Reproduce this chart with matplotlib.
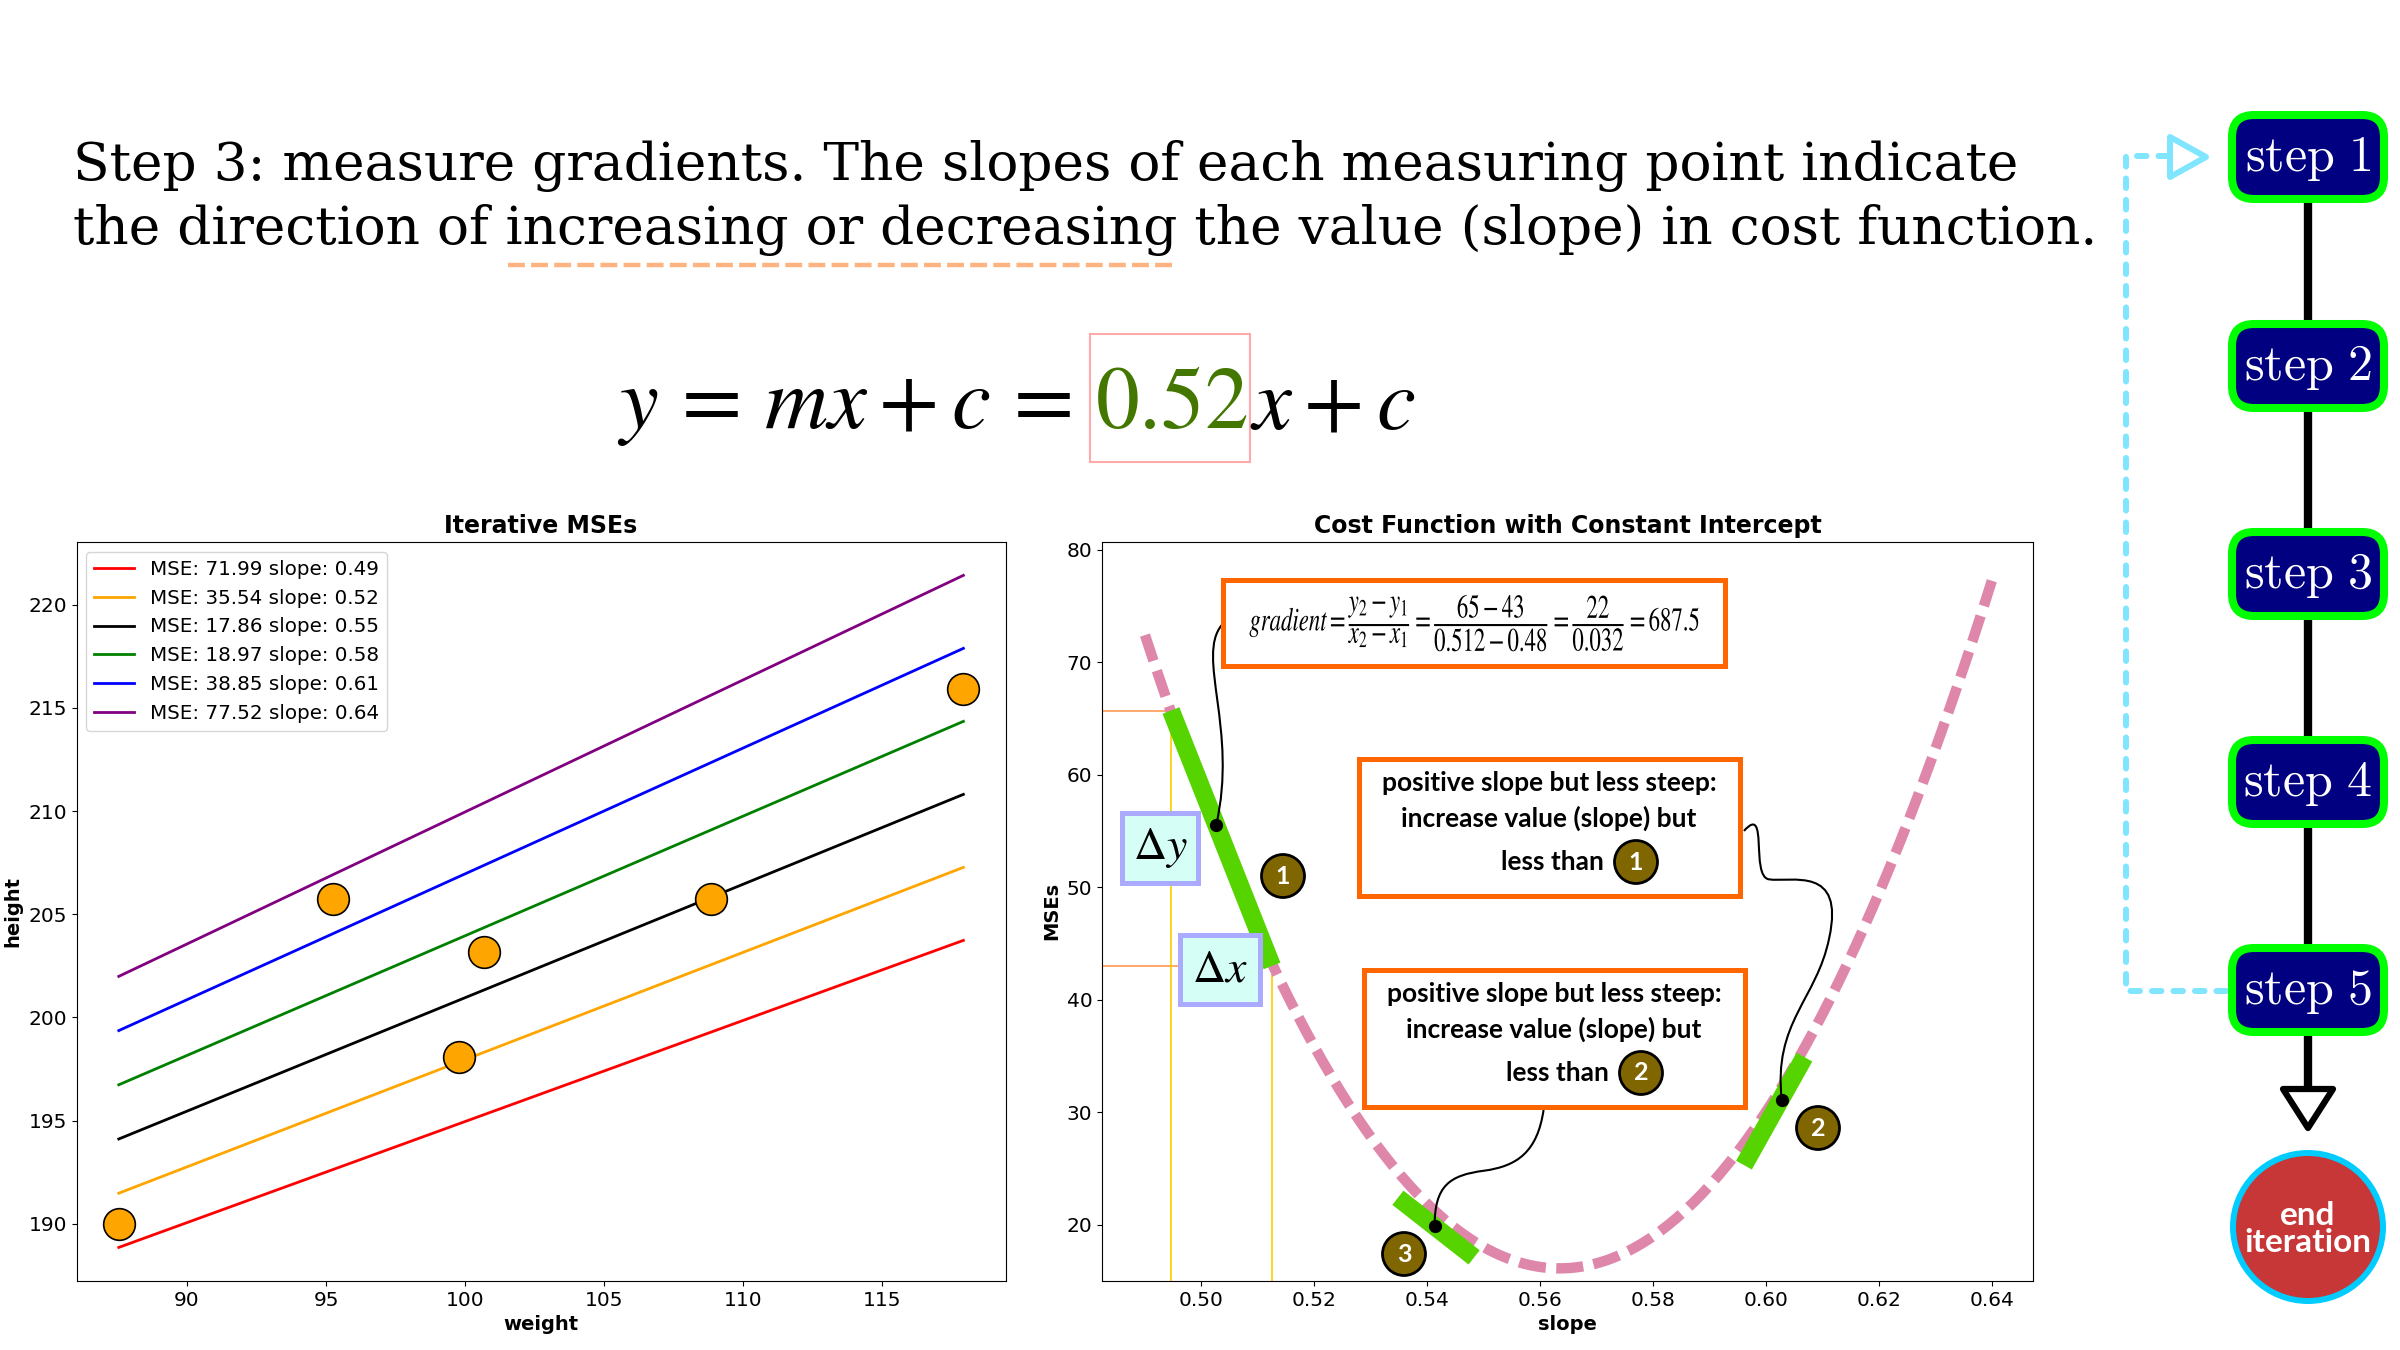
import numpy as np
import matplotlib.pyplot as plt
from matplotlib.patches import Rectangle, FancyBboxPatch, Ellipse, Polygon, PathPatch
from matplotlib.path import Path
from matplotlib.textpath import TextPath
from matplotlib.font_manager import FontProperties
from matplotlib.transforms import Affine2D

# scatter data (weight vs height)
weights = [87.55, 95.25, 100.68, 99.79, 108.84, 117.91]
heights = [190.0, 205.72, 203.17, 198.1, 205.72, 215.9]
intercept = 145.96

# candidate slopes and their MSEs (legend)
slopes = [0.49, 0.52, 0.55, 0.58, 0.61, 0.64]
mses = [71.99, 35.54, 17.86, 18.97, 38.85, 77.52]
line_colors = ["red", "orange", "black", "green", "blue", "purple"]

# tangent segments drawn on the cost curve
tangent_x = [[0.4946, 0.5125], [0.5961, 0.6068], [0.5348, 0.5483]]
tangent_y = [[65.7, 43.0], [25.3, 34.9], [22.4, 17.1]]
touch_x = [0.5026, 0.6028, 0.5413]
touch_y = [55.5, 31.05, 19.9]

steps = ["step 1", "step 2", "step 3", "step 4", "step 5"]
step_y = [157, 366, 574, 782, 990]

title_lines = [
    "Step 3: measure gradients. The slopes of each measuring point indicate",
    "the direction of increasing or decreasing the value (slope) in cost function.",
]
grad_text = (r"$gradient = \dfrac{y_2 - y_1}{x_2 - x_1} = \dfrac{65 - 43}{0.512 - 0.48}"
             r" = \dfrac{22}{0.032} = 687.5$")
note_lines = "positive slope but less steep:\nincrease value (slope) but"

BOX_FONT = ["Lato", "DejaVu Sans"]


def mse(m):
    w = np.array(weights)
    h = np.array(heights)
    return np.mean((h - (m * w + intercept)) ** 2)


def number_badge(ax, x, y, n):
    ax.text(x, y, str(n), ha="center", va="center", color="white", fontsize=18,
            fontweight="bold", family=BOX_FONT, zorder=12,
            bbox=dict(boxstyle="circle,pad=0.4", fc="#806600", ec="black", lw=2))


def curve(ax, pts):
    codes = [Path.MOVETO] + [Path.CURVE4] * (len(pts) - 1)
    ax.add_patch(PathPatch(Path(pts, codes), fc="none", ec="black", lw=1.5, zorder=6))


def narrow_math(ax, x, y, s, size_px, xscale):
    # condensed math text, drawn as a path centred on (x, y) in pixel coords
    tp = TextPath((0, 0), s, size=size_px, prop=FontProperties(math_fontfamily="stix"))
    ext = tp.get_extents()
    tr = (Affine2D().translate(-(ext.x0 + ext.x1) / 2, -(ext.y0 + ext.y1) / 2)
          .scale(xscale, -1).translate(x, y) + ax.transData)
    ax.add_patch(PathPatch(tp, transform=tr, fc="black", ec="none", zorder=9))


def main():
    fig = plt.figure(figsize=(24, 13.5), dpi=100)

    # ---- left: iterative MSE lines
    ax1 = fig.add_axes([0.0319, 0.0511, 0.3871, 0.5476])
    xs = np.array([min(weights), max(weights)])
    for m, e, c in zip(slopes, mses, line_colors):
        ax1.plot(xs, m * xs + intercept, color=c, lw=2,
                 label=f"MSE: {e:.2f} slope: {m:.2f}")
    ax1.scatter(weights, heights, s=520, color="orange", edgecolor="black",
                lw=1.2, zorder=3)
    ax1.set_title("Iterative MSEs", fontsize=17, fontweight="bold")
    ax1.set_xlabel("weight", fontsize=14, fontweight="bold")
    ax1.set_ylabel("height", fontsize=14, fontweight="bold")
    ax1.tick_params(labelsize=14.5)
    ax1.legend(loc="upper left", fontsize=14.3)

    # ---- right: cost function
    ax2 = fig.add_axes([0.4592, 0.0511, 0.3879, 0.5476])
    grid = np.linspace(slopes[0], slopes[-1], 200)
    ax2.plot(grid, [mse(m) for m in grid], color="#de87aa", lw=7.5,
             linestyle=(0, (2.6, 1.0)), zorder=2)
    for sx, sy in zip(tangent_x, tangent_y):
        ax2.plot(sx, sy, color="#55d400", lw=13, solid_capstyle="butt", zorder=4)
    ax2.plot(touch_x, touch_y, "o", color="black", ms=8.5, zorder=7)

    # guide lines for delta x / delta y
    x_lo = 0.4824
    ax2.plot([x_lo, tangent_x[0][0]], [tangent_y[0][0]] * 2, color="#ff9955", lw=1.2, zorder=1)
    ax2.plot([x_lo, tangent_x[0][1]], [tangent_y[0][1]] * 2, color="#ff9955", lw=1.2, zorder=1)
    ax2.plot([tangent_x[0][0]] * 2, [15, tangent_y[0][0]], color="#ffcc00", lw=1.2, zorder=1)
    ax2.plot([tangent_x[0][1]] * 2, [15, tangent_y[0][1]], color="#ffcc00", lw=1.2, zorder=1)

    ax2.set_xlim(x_lo, 0.6473)
    ax2.set_ylim(15, 80.7)
    ax2.set_xticks(np.arange(0.50, 0.641, 0.02))
    ax2.set_title("Cost Function with Constant Intercept", fontsize=17, fontweight="bold")
    ax2.set_xlabel("slope", fontsize=14, fontweight="bold")
    ax2.set_ylabel("MSEs", fontsize=14, fontweight="bold")
    ax2.tick_params(labelsize=14.5)

    # connectors from notes to tangent points
    curve(ax2, [(0.5026, 55.5), (0.5065, 64.0), (0.4990, 70.5), (0.5036, 73.3)])
    curve(ax2, [(0.5961, 55.0), (0.6005, 57.5), (0.5972, 51.0), (0.6005, 50.7),
                (0.6045, 50.4), (0.6140, 52.0), (0.6112, 45.5),
                (0.6090, 40.0), (0.6012, 38.0), (0.6028, 31.05)])
    curve(ax2, [(0.5606, 30.2), (0.5595, 26.5), (0.5560, 25.2), (0.5500, 24.8),
                (0.5440, 24.4), (0.5413, 23.5), (0.5413, 19.9)])

    # ---- overlay in pixel coordinates
    ov = fig.add_axes([0, 0, 1, 1], zorder=10)
    ov.set_xlim(0, 2400)
    ov.set_ylim(1350, 0)
    ov.axis("off")
    ov.patch.set_alpha(0)

    for i, line in enumerate(title_lines):
        ov.text(73, 180 + 64 * i, line, family="DejaVu Serif", fontsize=38.4, va="baseline")
    ov.plot([508, 1172], [265, 265], color="#ffb380", lw=3.2,
            linestyle=(0, (3.8, 1.4)), solid_capstyle="butt")

    # equation with highlighted slope
    fig.canvas.draw()
    r = fig.canvas.get_renderer()
    base = 428
    eq_size = 63
    t1 = ov.text(617, base, r"$y\,=\,mx + c\,=$", fontsize=eq_size,
                 math_fontfamily="stix", va="baseline")
    x1 = t1.get_window_extent(r).x1 + 24
    t2 = ov.text(x1, base, r"$\mathrm{0.52}$", fontsize=eq_size, math_fontfamily="stix",
                 va="baseline", color="#447700")
    b2 = t2.get_window_extent(r)
    ov.add_patch(Rectangle((b2.x0 - 5, base - 94), b2.width + 7, 128, fc="none",
                           ec="#ffaaaa", lw=1.5))
    ov.text(b2.x1 + 2, base, r"$x + c$", fontsize=eq_size, math_fontfamily="stix",
            va="baseline")

    # gradient box
    ov.add_patch(Rectangle((1223, 580), 502, 86, fc="white", ec="#ff6600", lw=3.6, zorder=8))
    narrow_math(ov, 1474, 623, grad_text, 33, 0.69)

    # note boxes
    for (bx, by), n in zip([(1359, 759), (1364, 970)], [1, 2]):
        ov.add_patch(Rectangle((bx, by), 381, 137, fc="white", ec="#ff6600", lw=3.6, zorder=8))
        ov.text(bx + 190, by + 42, note_lines, ha="center", va="center", fontsize=19,
                fontweight="bold", family=BOX_FONT, linespacing=1.5, zorder=9)
        ov.text(bx + 245, by + 103, "less than", ha="right", va="center", fontsize=19,
                fontweight="bold", family=BOX_FONT, zorder=9)
        number_badge(ov, bx + 277, by + 103, n)

    # delta boxes
    for (bx, by, w, h), lab in zip([(1122, 813, 76, 70), (1180, 935, 80, 69)],
                                   [r"$\Delta y$", r"$\Delta x$"]):
        ov.add_patch(Rectangle((bx, by), w, h, fc="#d5fff6", ec="#aaaaff", lw=3.6, zorder=8))
        ov.text(bx + w / 2, by + h / 2, lab, fontsize=33, math_fontfamily="stix",
                ha="center", va="center", zorder=9)

    for (x, y), n in zip([(1283, 876), (1818, 1128), (1404, 1254)], [1, 2, 3]):
        number_badge(ov, x, y, n)

    # ---- flowchart on the right
    cx = 2308
    ov.plot([cx, cx], [step_y[0], step_y[-1]], color="black", lw=6, zorder=2)
    ov.plot([cx, cx], [step_y[-1], 1090], color="black", lw=6, zorder=2)
    ov.add_patch(Polygon([(cx - 25, 1089), (cx + 25, 1089), (cx, 1128)], closed=True,
                         fc="white", ec="black", lw=4.5, joinstyle="round", zorder=3))
    for s, y in zip(steps, step_y):
        ov.add_patch(FancyBboxPatch((cx - 76, y - 42), 152, 84,
                                    boxstyle="round,pad=0,rounding_size=22",
                                    fc="#000080", ec="#00ff00", lw=5.8, zorder=4))
        ov.text(cx, y + 2, r"$\mathrm{" + s.replace(" ", r"\ ") + "}$", color="white",
                fontsize=36, math_fontfamily="cm", ha="center", va="center", zorder=5)

    ov.add_patch(Ellipse((cx, 1227), 150, 148, fc="#c83737", ec="#00ccff", lw=4.3, zorder=4))
    ov.text(cx, 1229, "end\niteration", color="white", fontsize=24, fontweight="bold",
            family=BOX_FONT, ha="center", va="center", linespacing=0.95, zorder=5)

    # loop back arrow
    ov.plot([2226, 2126, 2126, 2168], [991, 991, 156, 156], color="#80e5ff", lw=4.3,
            linestyle=(0, (1.6, 2.0)), dash_capstyle="round", zorder=2)
    ov.add_patch(Polygon([(2170, 137), (2170, 177), (2206, 157)], closed=True,
                         fc="white", ec="#80e5ff", lw=4.3, joinstyle="round", zorder=3))

    fig.savefig("out.png", dpi=100)


if __name__ == "__main__":
    main()
